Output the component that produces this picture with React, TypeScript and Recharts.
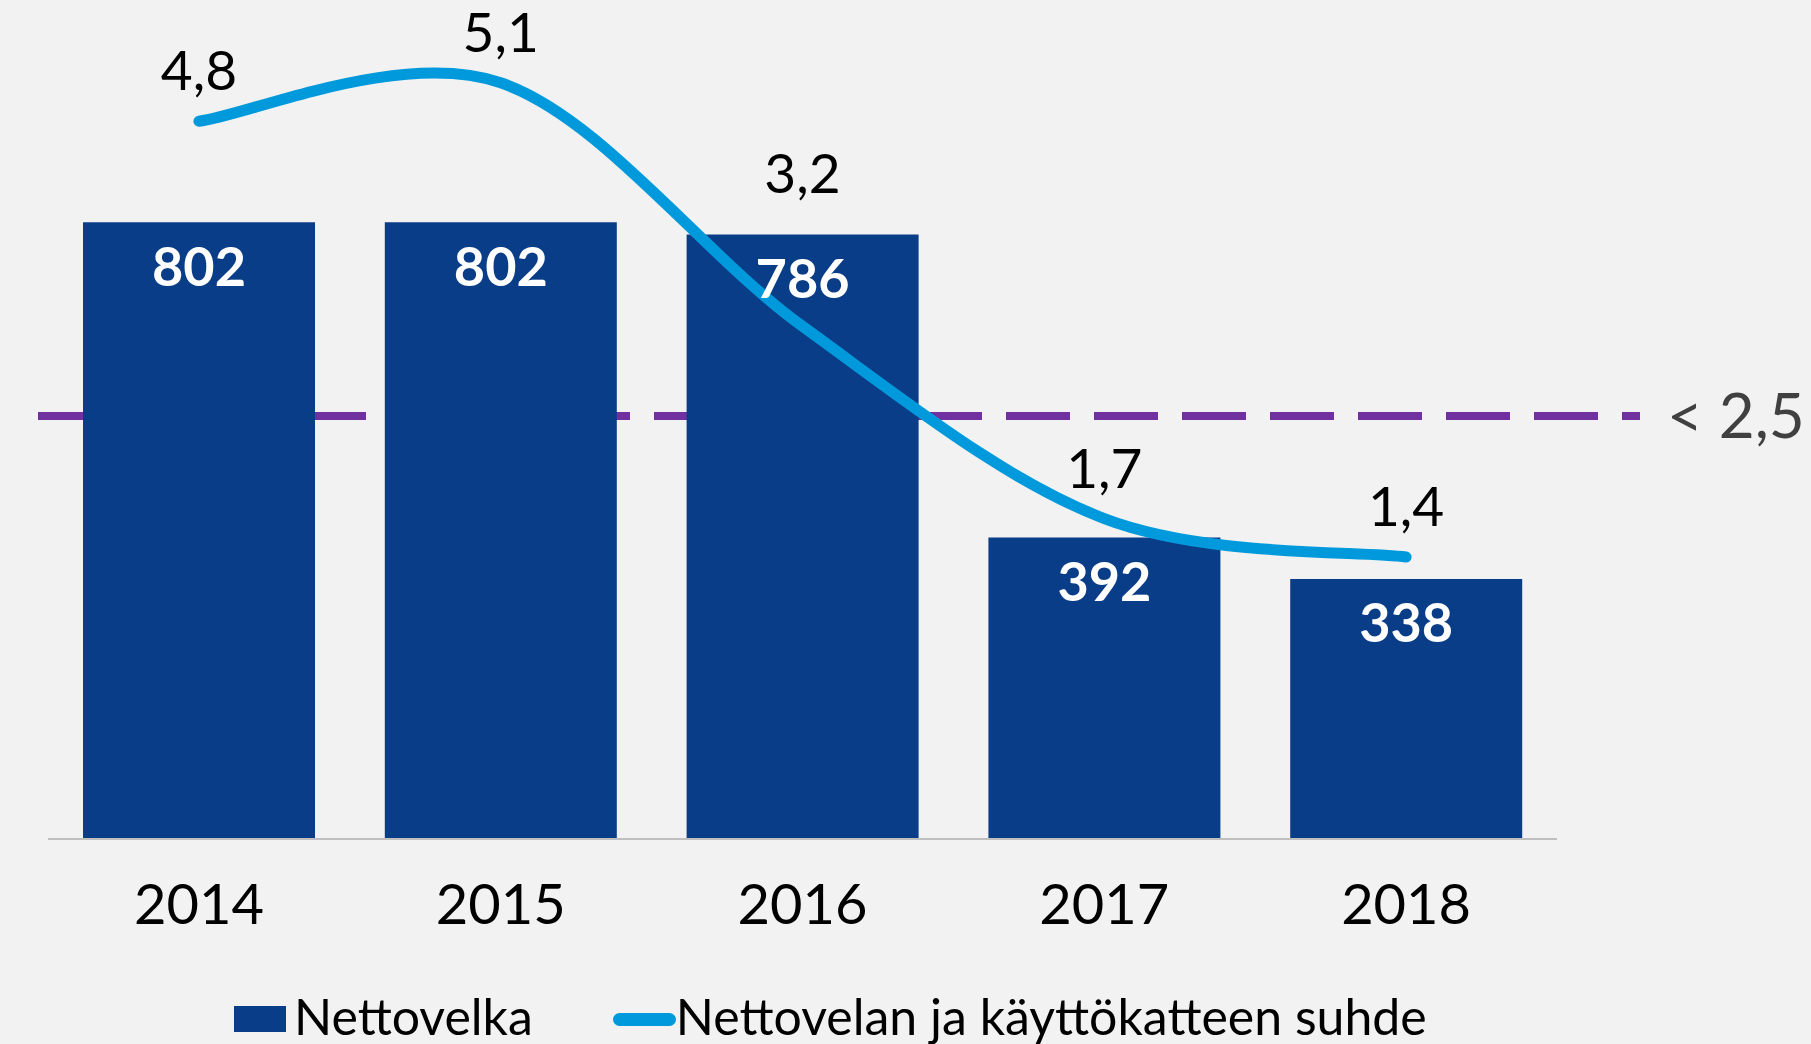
import React from "react";
import {
  ComposedChart,
  Bar,
  Line,
  XAxis,
  YAxis,
  Legend,
  LabelList,
  ReferenceLine,
} from "recharts";

const years = ["2014", "2015", "2016", "2017", "2018"];
const netDebt = [802, 802, 786, 392, 338];
const debtToEbitda = [4.8, 5.1, 3.2, 1.7, 1.4];
const targetRatio = 2.5;

const data = years.map((year, i) => ({
  year,
  debt: netDebt[i],
  ratio: debtToEbitda[i],
}));

const W = 1811;
const H = 1044;
const margin = { top: 70, right: 254, bottom: 95, left: 48 };
const X_AXIS_H = 110;
const PLOT_BOTTOM = H - margin.bottom - X_AXIS_H;
const PLOT_H = PLOT_BOTTOM - margin.top;
const DEBT_MAX = 1000;

const font = "Lato, 'Open Sans', sans-serif";
const barColor = "#0A3D87";
const lineColor = "#009ADC";
const purple = "#7030A0";

const fmt = (v: number) => String(v).replace(".", ",");

// excel-style smoothed line (catmull-rom through the points)
const smoothCurve = (context: any) => {
  let pts: number[][] = [];
  return {
    areaStart() {},
    areaEnd() {},
    lineStart() {
      pts = [];
    },
    point(x: number, y: number) {
      pts.push([+x, +y]);
    },
    lineEnd() {
      if (!pts.length) return;
      context.moveTo(pts[0][0], pts[0][1]);
      for (let i = 0; i < pts.length - 1; i++) {
        const p0 = pts[Math.max(i - 1, 0)];
        const p1 = pts[i];
        const p2 = pts[i + 1];
        const p3 = pts[Math.min(i + 2, pts.length - 1)];
        context.bezierCurveTo(
          p1[0] + (p2[0] - p0[0]) / 6,
          p1[1] + (p2[1] - p0[1]) / 6,
          p2[0] - (p3[0] - p1[0]) / 6,
          p2[1] - (p3[1] - p1[1]) / 6,
          p2[0],
          p2[1]
        );
      }
    },
  };
};

const RatioLabel = (props: any) => {
  const x = props.x ?? props.viewBox?.x;
  const y = props.y ?? props.viewBox?.y;
  const i = props.index ?? 0;
  if (x == null || y == null) return null;
  // move the label above the bar when the point sits inside it
  const barTop = PLOT_BOTTOM - (netDebt[i] / DEBT_MAX) * PLOT_H;
  const baseY = y > barTop ? barTop - 42 : y - 31;
  return (
    <text
      x={x}
      y={baseY}
      textAnchor="middle"
      fill="#000"
      fontSize={55}
      fontFamily={font}
    >
      {fmt(Number(props.value))}
    </text>
  );
};

const TargetLine = (p: any) => {
  const left = Math.min(p.x1, p.x2);
  const right = Math.max(p.x1, p.x2);
  return (
    <line
      x1={left - 10}
      y1={p.y1}
      x2={right + 83}
      y2={p.y2}
      stroke={purple}
      strokeWidth={8}
      strokeDasharray="64 24"
    />
  );
};

const LegendContent = (props: any) => {
  const items = [...(props.payload || [])].sort(
    (a: any, b: any) => (a.type === "line" ? 1 : 0) - (b.type === "line" ? 1 : 0)
  );
  return (
    <div
      style={{
        display: "flex",
        alignItems: "center",
        fontFamily: font,
        fontSize: 50,
        lineHeight: "50px",
        color: "#000",
        whiteSpace: "nowrap",
      }}
    >
      {items.map((item: any, i: number) => (
        <div
          key={item.value}
          style={{ display: "flex", alignItems: "center", marginLeft: i ? 80 : 0 }}
        >
          {item.type === "line" ? (
            <span
              style={{
                display: "inline-block",
                width: 63,
                height: 13,
                borderRadius: 7,
                background: item.color,
                marginTop: 6,
              }}
            />
          ) : (
            <span
              style={{
                display: "inline-block",
                width: 52,
                height: 26,
                background: item.color,
                marginTop: 6,
                marginRight: 8,
              }}
            />
          )}
          <span>{item.value}</span>
        </div>
      ))}
    </div>
  );
};

export default function App() {
  return (
    <div
      style={{
        position: "absolute",
        left: 0,
        top: 0,
        width: W,
        height: H,
        background: "#F2F2F2",
      }}
    >
      <ComposedChart width={W} height={H} data={data} margin={margin} barCategoryGap="11.6%">
        <XAxis
          dataKey="year"
          height={X_AXIS_H}
          tickLine={false}
          tickSize={0}
          tickMargin={45}
          axisLine={{ stroke: "#BFBFBF", strokeWidth: 2 }}
          tick={{ fill: "#000", fontSize: 56, fontFamily: font }}
        />
        <YAxis yAxisId="debt" hide domain={[0, DEBT_MAX]} />
        <YAxis yAxisId="ratio" orientation="right" hide domain={[-0.8, 5.2]} />
        <ReferenceLine
          yAxisId="ratio"
          y={targetRatio}
          zIndex={100}
          shape={TargetLine}
          label={{
            value: `< ${fmt(targetRatio)}`,
            position: "right",
            offset: 110,
            fill: "#404040",
            fontSize: 62,
            fontFamily: font,
          }}
        />
        <Bar
          yAxisId="debt"
          dataKey="debt"
          name="Nettovelka"
          fill={barColor}
          legendType="rect"
          isAnimationActive={false}
        >
          <LabelList
            dataKey="debt"
            position="insideTop"
            offset={25}
            fill="#fff"
            fontSize={54}
            fontWeight={700}
            fontFamily={font}
          />
        </Bar>
        <Line
          yAxisId="ratio"
          dataKey="ratio"
          name="Nettovelan ja käyttökatteen suhde"
          type={smoothCurve as any}
          stroke={lineColor}
          strokeWidth={11}
          strokeLinecap="round"
          dot={false}
          activeDot={false}
          legendType="line"
          isAnimationActive={false}
        >
          <LabelList dataKey="ratio" content={RatioLabel} />
        </Line>
        <Legend
          layout="horizontal"
          align="center"
          verticalAlign="middle"
          wrapperStyle={{ left: 234, top: 991, width: "auto" }}
          content={LegendContent}
        />
      </ComposedChart>
    </div>
  );
}
